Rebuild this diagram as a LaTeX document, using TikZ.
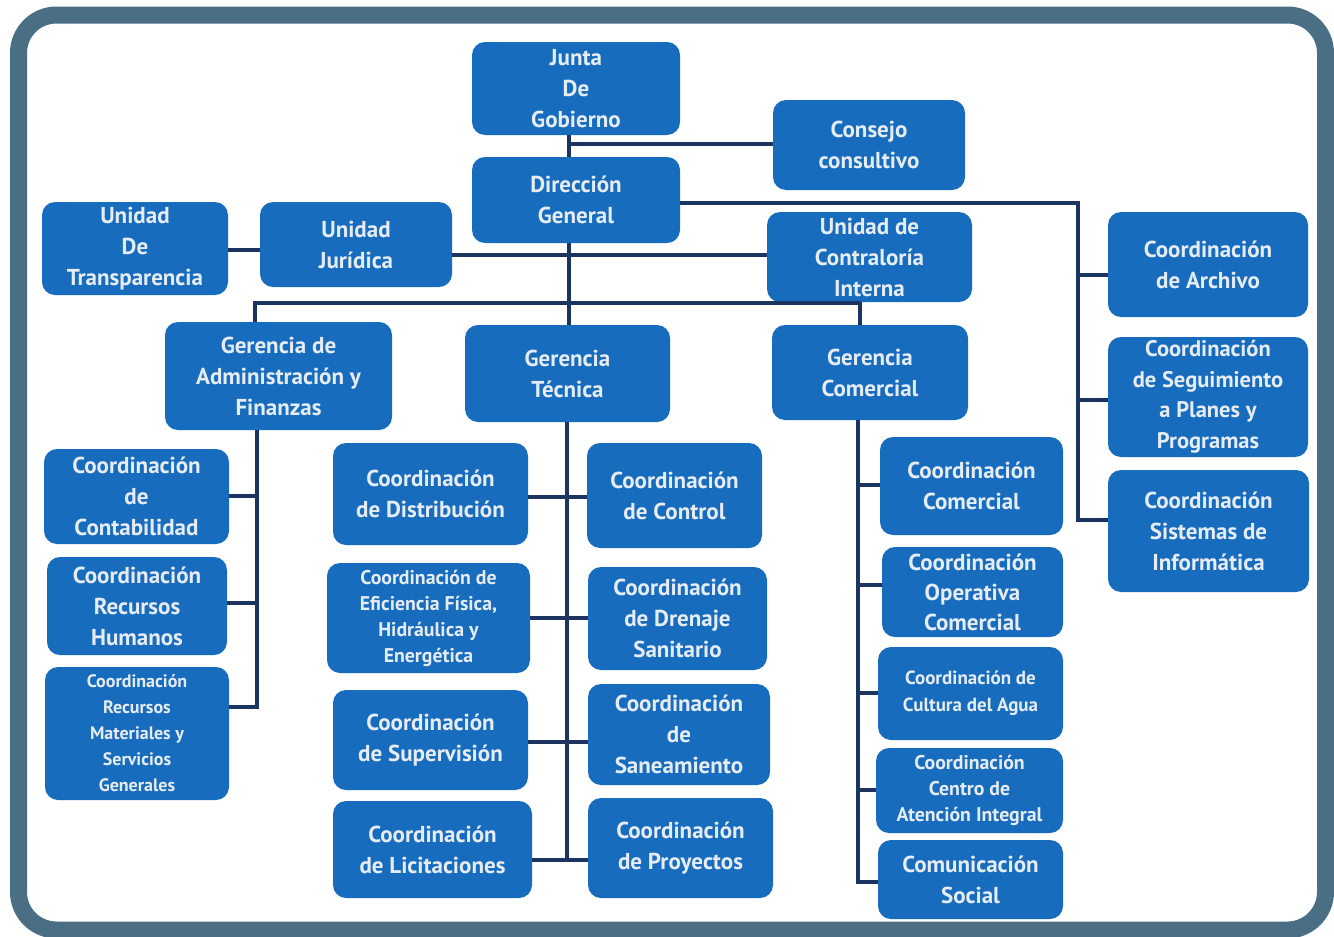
\documentclass[tikz,border=0pt]{standalone}
\usepackage{fontspec}
\setmainfont{PT Sans}
\definecolor{framec}{RGB}{74,111,132}
\definecolor{boxc}{RGB}{24,108,190}
\definecolor{txtc}{RGB}{230,236,243}
\definecolor{linec}{RGB}{28,52,96}
\tikzset{
  box/.style={fill=boxc, draw=none, rounded corners=13pt, align=center, text=txtc,
    inner sep=0pt, font=\bfseries\fontsize{23}{31}\selectfont},
  smallA/.style={font=\bfseries\fontsize{18}{26}\selectfont},
  smallB/.style={font=\bfseries\fontsize{19}{27}\selectfont},
  smallC/.style={font=\bfseries\fontsize{19.8}{26}\selectfont},
  conn/.style={draw=linec, line width=4pt},
}
\newcommand{\bx}[6][]{\node[box,#1,minimum width=#4pt,minimum height=#5pt] (#2) at #3 {#6};}
\begin{document}
\begin{tikzpicture}[x=1pt,y=-1pt]
\useasboundingbox (0,0) rectangle (1334,937);
\fill[white] (0,0) rectangle (1334,937);
\draw[line width=17pt, framec, rounded corners=38pt] (18.5,15) rectangle (1325.5,930);

% coordinates for connectors
\coordinate (sp) at (569,144);
\coordinate (rc) at (1078,203);

% top
\bx{junta}{(576,88.5)}{208}{93}{Junta\\De\\Gobierno}
\bx{consejo}{(869,145)}{192}{90}{Consejo\\consultivo}
\bx{dir}{(576,200)}{208}{86}{Dirección\\General}
\bx{transp}{(135,248.5)}{186}{93}{Unidad\\De\\Transparencia}
\bx{jur}{(356,244.5)}{192}{85}{Unidad\\Jurídica}
\bx{contra}{(869.5,257)}{205}{90}{Unidad de\\Contraloría\\Interna}
\bx{archivo}{(1208,264.5)}{200}{105}{Coordinación\\de Archivo}
\bx[font=\bfseries\fontsize{22.5}{30.5}\selectfont]{seguim}{(1208,397)}{200}{120}{Coordinación\\de Seguimiento\\a Planes y\\Programas}
\bx{sistemas}{(1208.5,531)}{201}{122}{Coordinación\\Sistemas de\\Informática}
% gerencias
\bx{gadm}{(278.5,376)}{227}{108}{Gerencia de\\Administración y\\Finanzas}
\bx{gtec}{(567.5,373.5)}{205}{97}{Gerencia\\Técnica}
\bx{gcom}{(870,372.5)}{196}{95}{Gerencia\\Comercial}
% admin
\bx{cont}{(136.5,496.5)}{185}{95}{Coordinación\\de\\Contabilidad}
\bx{rh}{(137,606)}{180}{98}{Coordinación\\Recursos\\Humanos}
\bx[smallA]{rm}{(137,733.5)}{184}{133}{Coordinación\\Recursos\\Materiales y\\Servicios\\Generales}
% tecnica
\bx{dist}{(430.5,494)}{195}{102}{Coordinación\\de Distribución}
\bx{ctrl}{(674.5,495.5)}{175}{105}{Coordinación\\de Control}
\bx[smallC]{efic}{(428.5,618)}{203}{110}{Coordinación de\\Eficiencia Física,\\Hidráulica y\\Energética}
\bx{dren}{(677.5,618.5)}{179}{103}{Coordinación\\de Drenaje\\Sanitario}
\bx{sup}{(430.5,740)}{195}{100}{Coordinación\\de Supervisión}
\bx{san}{(679,734.5)}{182}{101}{Coordinación\\de\\Saneamiento}
\bx{lic}{(432.5,849.5)}{199}{97}{Coordinación\\de Licitaciones}
\bx{proy}{(680.5,848)}{185}{100}{Coordinación\\de Proyectos}
% comercial
\bx{ccom}{(971.5,486)}{183}{98}{Coordinación\\Comercial}
\bx[font=\bfseries\fontsize{23}{30}\selectfont]{oper}{(972.5,592)}{181}{90}{Coordinación\\Operativa\\Comercial}
\bx[smallB]{cult}{(970.5,693.5)}{185}{93}{Coordinación de\\Cultura del Agua}
\bx[smallC]{centro}{(969.5,790.5)}{187}{85}{Coordinación\\Centro de\\Atención Integral}
\bx{comun}{(970.5,879.5)}{185}{79}{Comunicación\\Social}

% connectors
\draw[conn] (junta.south -| sp) -- (dir.north -| sp);
\draw[conn] (sp) -- (sp -| consejo.west);
\draw[conn] (dir.east |- rc) -- (rc) -- (rc |- 0,520) -- (sistemas.west |- 0,520);
\draw[conn] (rc |- 0,275) -- (archivo.west |- 0,275);
\draw[conn] (rc |- 0,400) -- (seguim.west |- 0,400);
\draw[conn] (transp.east |- 0,250) -- (jur.west |- 0,250);
\draw[conn] (jur.east |- 0,255) -- (contra.west |- 0,255);
\draw[conn] (dir.south -| sp) -- (gtec.north -| sp);
\draw[conn] (gadm.north -| 255,0) -- (255,303) -- (860,303);
\draw[conn] (contra.south -| 860,0) -- (gcom.north -| 860,0);
% admin branch
\draw[conn] (gadm.south -| 257,0) -- (257,707) -- (rm.east |- 0,707);
\draw[conn] (257,496) -- (cont.east |- 0,496);
\draw[conn] (257,603) -- (rh.east |- 0,603);
% tecnica branch
\draw[conn] (gtec.south -| 567,0) -- (567,860);
\draw[conn] (dist.east |- 0,497) -- (ctrl.west |- 0,497);
\draw[conn] (efic.east |- 0,618) -- (dren.west |- 0,618);
\draw[conn] (sup.east |- 0,742) -- (san.west |- 0,742);
\draw[conn] (lic.east |- 0,860) -- (proy.west |- 0,860);
% comercial branch
\draw[conn] (gcom.south -| 858,0) -- (858,882) -- (comun.west |- 0,882);
\draw[conn] (858,485) -- (ccom.west |- 0,485);
\draw[conn] (858,585) -- (oper.west |- 0,585);
\draw[conn] (858,693) -- (cult.west |- 0,693);
\draw[conn] (858,790) -- (centro.west |- 0,790);
\end{tikzpicture}
\end{document}
